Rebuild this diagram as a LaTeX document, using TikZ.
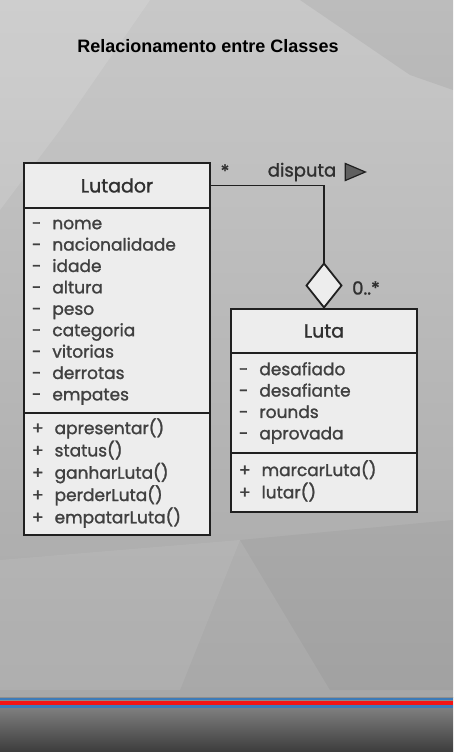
\documentclass[tikz,border=0pt]{standalone}
\usepackage{fontspec}
\setmainfont{Poppins}[FakeBold=1.3]
\newfontfamily\titlefont{Liberation Sans}
\usetikzlibrary{positioning,shapes.geometric}
\definecolor{umlline}{HTML}{202020}
\definecolor{umltext}{HTML}{404040}
\definecolor{umlhead}{HTML}{303030}
\definecolor{umlfill}{HTML}{EDEDED}
\definecolor{fundoclaro}{HTML}{C8C8C8}
\definecolor{fundomeio}{HTML}{A8A8A8}
\definecolor{fundoescuro}{HTML}{3C3C3C}
\definecolor{faixaazul}{HTML}{3D7BB8}
\definecolor{faixavermelha}{HTML}{F31414}

\begin{document}
\begin{tikzpicture}[
    x=1pt, y=-1pt,
    classe/.style={rectangle, draw=umlline, line width=1.8pt, fill=umlfill, minimum width=186pt, outer sep=0pt, inner sep=0pt},
    nomeclasse/.style={classe, font=\fontsize{19}{22}\selectfont, text=umlhead},
    membros/.style={classe, text width=170pt, inner xsep=8pt, align=left, font=\fontsize{17}{21.4}\selectfont, text=umltext},
    losango/.style={diamond, draw=umlline, fill=umlfill, line width=1.8pt, minimum width=35pt, minimum height=44pt, inner sep=0pt, outer sep=0pt},
    seta/.style={isosceles triangle, isosceles triangle stretches, draw=umlline, fill=gray!75!black, line width=1.2pt, minimum height=20pt, minimum width=17pt, inner sep=0pt},
    assoc/.style={draw=umlline, line width=1.8pt},
    rotulo/.style={font=\fontsize{18}{20}\selectfont, text=umlhead}
]

% Background
\useasboundingbox (0,0) rectangle (453,752);
\shade[top color=fundoclaro, bottom color=fundomeio] (0,0) rectangle (453,697);
\shade[top color=fundomeio!85!black, bottom color=fundoescuro] (0,697) rectangle (453,752);
\fill[white, opacity=0.12] (0,0) -- (150,0) -- (60,130) -- (0,210) -- cycle;
\fill[black, opacity=0.06] (300,0) -- (453,0) -- (453,90) -- (410,75) -- cycle;
\fill[white, opacity=0.07] (0,560) -- (240,540) -- (180,690) -- (0,690) -- cycle;
\fill[black, opacity=0.04] (240,540) -- (453,520) -- (453,690) -- (330,690) -- cycle;
\fill[faixaazul] (0,697.5) rectangle (453,700);
\fill[faixavermelha] (0,701) rectangle (453,704.5);
\fill[faixaazul] (0,705.3) rectangle (453,707.5);

% Title
\node[font=\titlefont\bfseries\fontsize{18}{20}\selectfont] (titulo) at (208,46) {Relacionamento entre Classes};

% Lutador
\node[nomeclasse, minimum height=45pt] (lutador) at (117,185.5) {Lutador};
\node[membros, minimum height=205pt, below=0pt of lutador] (lutadorAtrib) {%
\begin{tabular}{@{}c@{\hspace{11pt}}l@{}}
- & nome\\
- & nacionalidade\\
- & idade\\
- & altura\\
- & peso\\
- & categoria\\
- & vitorias\\
- & derrotas\\
- & empates
\end{tabular}};
\node[membros, minimum height=122pt, below=0pt of lutadorAtrib] (lutadorMetod) {%
\begin{tabular}{@{}c@{\hspace{11pt}}l@{}}
+ & apresentar()\\
+ & status()\\
+ & ganharLuta()\\
+ & perderLuta()\\
+ & empatarLuta()
\end{tabular}};

% Luta
\node[nomeclasse, minimum height=44pt] (luta) at (324,331) {Luta};
\node[membros, minimum height=100pt, below=0pt of luta] (lutaAtrib) {%
\begin{tabular}{@{}c@{\hspace{11pt}}l@{}}
- & desafiado\\
- & desafiante\\
- & rounds\\
- & aprovada
\end{tabular}};
\node[membros, minimum height=59pt, below=0pt of lutaAtrib] (lutaMetod) {%
\begin{tabular}{@{}c@{\hspace{11pt}}l@{}}
+ & marcarLuta()\\
+ & lutar()
\end{tabular}};

% Aggregation
\node[losango, above=1.5pt of luta] (agreg) {};
\draw[assoc] (lutador.east) -| (agreg.north);

% Labels
\node[rotulo] (multLutador) at (225,171) {*};
\node[rotulo] (disputa) at (302,172) {disputa};
\node[seta, right=5pt of disputa] (sentido) {};
\node[rotulo] (multLuta) at (366,288) {0..*};

\end{tikzpicture}
\end{document}
